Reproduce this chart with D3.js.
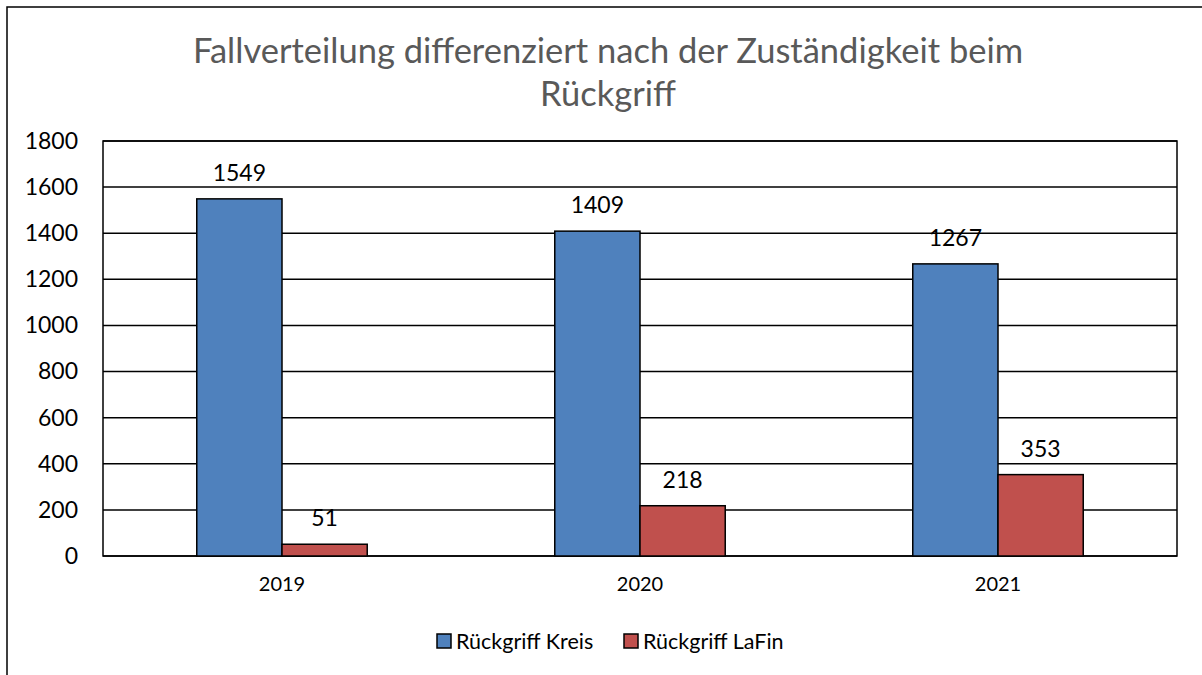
<!DOCTYPE html>
<html>
<head>
<meta charset="utf-8">
<script src="https://cdn.jsdelivr.net/npm/d3@7"></script>
<style>
  body { margin: 0; background: #fff; }
  text { font-family: Lato, "Open Sans", sans-serif; }
</style>
</head>
<body>
<div id="chart"></div>
<script>
// chart data
var years = ["2019", "2020", "2021"];
var seriesNames = ["Rückgriff Kreis", "Rückgriff LaFin"];
var kreis = [1549, 1409, 1267];
var lafin = [51, 218, 353];
var yTicks = [0, 200, 400, 600, 800, 1000, 1200, 1400, 1600, 1800];
var colors = ["#4f81bd", "#c0504d"];

var W = 1202, H = 675;
var margin = { top: 141, right: 25, bottom: 119, left: 103 };
var width = W - margin.left - margin.right,
    height = H - margin.top - margin.bottom;

var svg = d3.select("#chart").append("svg")
    .attr("width", W)
    .attr("height", H);

// outer frame (runs off the right and bottom edge)
svg.append("rect")
    .attr("x", 7).attr("y", 7)
    .attr("width", W + 20).attr("height", H + 20)
    .attr("fill", "none").attr("stroke", "#000").attr("stroke-width", 1.5);

// title
var title = svg.append("text")
    .attr("text-anchor", "middle")
    .attr("fill", "#595959")
    .style("font-size", "34.5px");
title.append("tspan").attr("x", 608).attr("y", 63)
    .text("Fallverteilung differenziert nach der Zuständigkeit beim");
title.append("tspan").attr("x", 608).attr("y", 106)
    .text("Rückgriff");

var g = svg.append("g")
    .attr("transform", "translate(" + margin.left + "," + margin.top + ")");

var x0 = d3.scaleBand().domain(years).range([0, width]).paddingInner(0).paddingOuter(0);
var y = d3.scaleLinear().domain([0, 1800]).range([height, 0]);

var clusterW = x0.bandwidth() / 2.1;
var x1 = d3.scaleBand().domain([0, 1]).range([0, clusterW]);

// gridlines
g.selectAll(".grid").data(yTicks).enter().append("line")
    .attr("x1", 0).attr("x2", width)
    .attr("y1", function(d) { return y(d); })
    .attr("y2", function(d) { return y(d); })
    .attr("stroke", "#000").attr("stroke-width", 1.5);

// plot frame
g.append("rect")
    .attr("width", width).attr("height", height)
    .attr("fill", "none").attr("stroke", "#000").attr("stroke-width", 1.5);

// y axis labels
var yAxis = d3.axisLeft(y).tickValues(yTicks).tickFormat(d3.format("d")).tickSize(0).tickPadding(25);
g.append("g").call(yAxis)
    .call(function(a) { a.select(".domain").remove(); })
    .selectAll("text")
    .style("font-size", "23px")
    .style("font-family", "Lato, 'Open Sans', sans-serif")
    .attr("fill", "#000");

// x axis labels
var xAxis = d3.axisBottom(x0).tickSize(0).tickPadding(21);
g.append("g").attr("transform", "translate(0," + height + ")").call(xAxis)
    .call(function(a) { a.select(".domain").remove(); })
    .selectAll("text")
    .style("font-size", "20px")
    .style("font-family", "Lato, 'Open Sans', sans-serif")
    .attr("fill", "#000");

var rows = years.map(function(yr, i) { return { year: yr, vals: [kreis[i], lafin[i]] }; });

var groups = g.selectAll(".cat").data(rows).enter().append("g")
    .attr("transform", function(d) {
        return "translate(" + (x0(d.year) + (x0.bandwidth() - clusterW) / 2) + ",0)";
    });

groups.selectAll("rect").data(function(d) { return d.vals; }).enter().append("rect")
    .attr("x", function(d, i) { return x1(i); })
    .attr("y", function(d) { return y(d); })
    .attr("width", x1.bandwidth())
    .attr("height", function(d) { return height - y(d); })
    .attr("fill", function(d, i) { return colors[i]; })
    .attr("stroke", "#000").attr("stroke-width", 1.5);

groups.selectAll(".lbl").data(function(d) { return d.vals; }).enter().append("text")
    .attr("x", function(d, i) { return x1(i) + x1.bandwidth() / 2; })
    .attr("y", function(d) { return y(d) - 18; })
    .attr("text-anchor", "middle")
    .style("font-size", "23px")
    .text(function(d) { return d; });

// legend
var legend = svg.append("g").attr("transform", "translate(437,641)");
var legX = [0, 187];
seriesNames.forEach(function(name, i) {
    var lg = legend.append("g").attr("transform", "translate(" + legX[i] + ",0)");
    lg.append("rect").attr("x", 0).attr("y", -7).attr("width", 14).attr("height", 14)
        .attr("fill", colors[i]).attr("stroke", "#000").attr("stroke-width", 1.5);
    lg.append("text").attr("x", 19).attr("y", 0).attr("dy", "0.35em")
        .style("font-size", "21.5px").text(name);
});
</script>
</body>
</html>
